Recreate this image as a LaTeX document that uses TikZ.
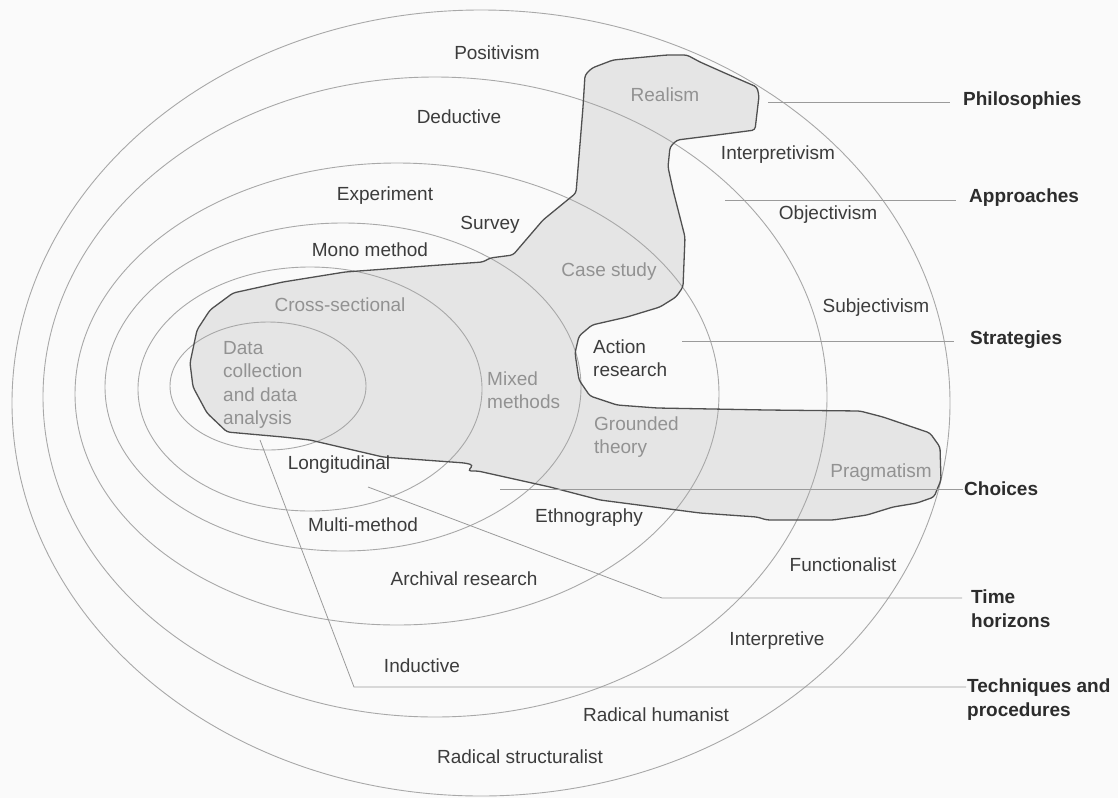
\documentclass[tikz,border=0pt]{standalone}
\usepackage{fontspec}
\setmainfont{Liberation Sans}
\definecolor{bgcol}{HTML}{FAFAFA}
\definecolor{ringgray}{HTML}{A8A8A8}
\definecolor{leadgray}{HTML}{9A9A9A}
\definecolor{blobfill}{HTML}{E5E5E5}
\definecolor{blobline}{HTML}{505050}
\definecolor{lbldark}{HTML}{3C3C3C}
\definecolor{lblgray}{HTML}{929292}
\definecolor{titlegray}{HTML}{2C2C2C}
% outline of the shaded region that runs through the layers
\def\onionblob{(592,68) -- (613,60) -- (667,55) -- (687,55) -- (700,62) -- (727,74) -- (757,87) -- (759,96)
 -- (755,130) -- (717,135) -- (677,140) -- (670,147) -- (668,167) -- (673,190) -- (685,237) -- (683,287)
 -- (676,297) -- (660,307) -- (627,317) -- (592,325) -- (579,336) -- (575,353) -- (579,380) -- (590,396)
 -- (617,405) -- (657,408) -- (767,410) -- (860,411) -- (883,417) -- (930,433) -- (940,447) -- (941,480)
 -- (934,497) -- (917,503) -- (893,507) -- (867,515) -- (833,520) -- (767,520) -- (757,517) -- (700,513)
 -- (600,500) -- (550,487) -- (478,471) -- (468,471) -- (473,465) -- (465,463) -- (383,457) -- (310,440)
 -- (283,437) -- (227,432) -- (207,413) -- (193,387) -- (190,363) -- (197,330) -- (210,310) -- (233,293)
 -- (283,282) -- (345,272) -- (440,265) -- (483,262) -- (490,258) -- (513,255) -- (543,220) -- (576,193)
 -- (583,107) -- (585,75) -- cycle}
\begin{document}
\begin{tikzpicture}[x=1pt,y=-1pt,
  ring/.style={draw=ringgray,line width=0.9pt},
  lead/.style={draw=leadgray,line width=0.8pt},
  lbl/.style={text=lbldark,inner sep=0pt,font=\fontsize{19}{23.3}\selectfont},
  inlbl/.style={lbl,text=lblgray},
  grp/.style={inner sep=0pt,text=titlegray,font=\fontsize{19}{24}\selectfont\bfseries,align=left,anchor=west}]

\fill[bgcol] (0,0) rectangle (1118,798);
\useasboundingbox (0,0) rectangle (1118,798);

% shaded region
\fill[blobfill,rounded corners=3pt] \onionblob;

% the six layers
\draw[ring] (481,403) ellipse [x radius=469pt, y radius=393pt];
\draw[ring] (435,397) ellipse [x radius=392pt, y radius=320pt];
\draw[ring] (397,394) ellipse [x radius=322pt, y radius=231pt];
\draw[ring] (343,387) ellipse [x radius=238pt, y radius=164pt];
\draw[ring] (310,389) ellipse [x radius=172pt, y radius=122pt];
\draw[ring] (268,386) ellipse [x radius=98pt, y radius=64pt];

\draw[blobline,line width=1.3pt,rounded corners=3pt] \onionblob;

% layer names
\node[grp] (philo) at (963,101) {Philosophies};
\node[grp] (appr) at (969,198) {Approaches};
\node[grp] (strat) at (970,340) {Strategies};
\node[grp] (choice) at (964,489) {Choices};
\node[grp] (time) at (971,609) {Time\\horizons};
\node[grp] (tech) at (967,700) {Techniques and\\procedures};

% leader lines
\coordinate (philoS) at (768,102);
\coordinate (apprS) at (725,200);
\coordinate (stratS) at (682,341);
\coordinate (choiceS) at (500,489);
\coordinate (timeS) at (368,487);
\coordinate (timeK) at (662,598);
\coordinate (techS) at (260,440);
\coordinate (techK) at (354,687);
\draw[lead,shorten >=13pt] (philoS) -- (philoS -| philo.west);
\draw[lead,shorten >=13pt] (apprS) -- (apprS -| appr.west);
\draw[lead,shorten >=16pt] (stratS) -- (stratS -| strat.west);
\draw[lead,shorten >=1pt] (choiceS) -- (choiceS -| choice.west);
\draw[lead,shorten >=9pt] (timeS) -- (timeK) -- (timeK -| time.west);
\draw[lead,shorten >=1pt] (techS) -- (techK) -- (techK -| tech.west);

% philosophies
\node[lbl] (positivism) at (497,53) {Positivism};
\node[inlbl] (realism) at (665,95) {Realism};
\node[lbl] (interpretivism) at (778,155) {Interpretivism};
\node[lbl] (objectivism) at (828,215) {Objectivism};
\node[lbl] (subjectivism) at (876,308) {Subjectivism};
\node[inlbl] (pragmatism) at (881,473) {Pragmatism};
\node[lbl] (functionalist) at (843,565) {Functionalist};
\node[lbl] (interpretive) at (777,641) {Interpretive};
\node[lbl] (humanist) at (656,715) {Radical humanist};
\node[lbl] (structuralist) at (520,757) {Radical structuralist};

% approaches
\node[lbl] (deductive) at (459,117) {Deductive};
\node[lbl] (inductive) at (422,666) {Inductive};

% strategies
\node[lbl] (experiment) at (385,196) {Experiment};
\node[lbl] (survey) at (490,225) {Survey};
\node[inlbl] (casestudy) at (609,272) {Case study};
\node[lbl,align=left,anchor=west] (action) at (593,358) {Action\\research};
\node[inlbl,align=left,anchor=west] (grounded) at (594,437) {Grounded\\theory};
\node[lbl] (ethno) at (589,518) {Ethnography};
\node[lbl] (archival) at (464,579) {Archival research};

% choices
\node[lbl] (mono) at (370,250) {Mono method};
\node[inlbl,align=left,anchor=west] (mixed) at (487,390) {Mixed\\methods};
\node[lbl] (multi) at (363,525) {Multi-method};

% time horizons
\node[inlbl] (cross) at (340,305) {Cross-sectional};
\node[lbl] (longit) at (339,465) {Longitudinal};

% techniques and procedures
\node[inlbl,align=left,anchor=west] (datacoll) at (223,385) {Data\\collection\\and data\\analysis};
\end{tikzpicture}
\end{document}
